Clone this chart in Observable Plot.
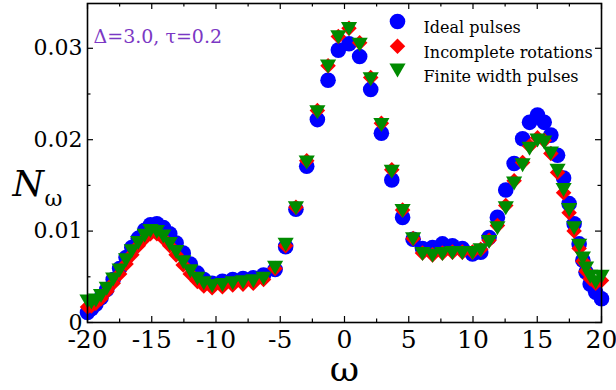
<!DOCTYPE html>
<html><head><meta charset="utf-8">
<script src="https://cdn.jsdelivr.net/npm/d3@7"></script>
<script src="https://cdn.jsdelivr.net/npm/@observablehq/plot@0.6"></script>
<style>body{margin:0;background:#fff}</style>
</head><body><div id="chart"></div>
<script>
// ---- data ----
const omega = [-20, -19.7, -19.35, -18.95, -18.5, -18.0, -17.5, -17.0, -16.55, -16.05, -15.55, -15.1, -14.6, -14.1, -13.6, -13.1, -12.55, -12.0, -11.45, -10.95, -10.3, -9.5, -8.7, -7.9, -7.1, -6.3, -5.4,
  -4.58, -3.78, -2.94, -2.11, -1.28, -0.48, 0.35, 1.18, 2.04, 2.87, 3.68, 4.52, 5.34,
  6.07, 6.85, 7.62, 8.4, 9.17, 9.96, 10.6, 11.25, 11.9, 12.55, 13.2, 13.86, 14.4, 15.02, 15.54, 16.06, 16.58, 17.05, 17.48, 17.87, 18.26, 18.55, 18.8, 19.12, 19.55, 20.0];
const ideal = [0.0011, 0.0015, 0.0020, 0.0027, 0.0036, 0.0047, 0.0059, 0.0071, 0.0082, 0.0092, 0.0101, 0.0107, 0.0108, 0.0104, 0.0097, 0.0087, 0.0076, 0.0064, 0.0054, 0.0047, 0.0043, 0.0045, 0.0047, 0.0048, 0.0049, 0.0052, 0.0058,
  0.0083, 0.0124, 0.0171, 0.0222, 0.0265, 0.0298, 0.0305, 0.0291, 0.0255, 0.0207, 0.0156, 0.0115, 0.0091,
  0.0081, 0.0082, 0.0086, 0.0084, 0.0081, 0.0075, 0.0077, 0.0093, 0.0115, 0.0145, 0.0174, 0.0201, 0.0219, 0.0227, 0.0219, 0.0205, 0.0183, 0.0158, 0.0130, 0.0108, 0.0086, 0.0068, 0.0055, 0.0042, 0.0033, 0.0026];
const incomplete = [0.0017, 0.0018, 0.0021, 0.0026, 0.0034, 0.0043, 0.0053, 0.0064, 0.0074, 0.0084, 0.0092, 0.0097, 0.0097, 0.0092, 0.0084, 0.0074, 0.0063, 0.0053, 0.0045, 0.0040, 0.0038, 0.0039, 0.0041, 0.0042, 0.0043, 0.0047, 0.0059,
  0.0084, 0.0126, 0.0177, 0.0232, 0.0281, 0.0313, 0.0322, 0.0306, 0.0268, 0.0218, 0.0167, 0.0123, 0.0092,
  0.0076, 0.0074, 0.0076, 0.0077, 0.0077, 0.0077, 0.0080, 0.0090, 0.0106, 0.0128, 0.0155, 0.0175, 0.0193, 0.0202, 0.0199, 0.0185, 0.0164, 0.0142, 0.0120, 0.0100, 0.0081, 0.0067, 0.0056, 0.0048, 0.0043, 0.0046];
const finite = [0.0023, 0.0022, 0.0024, 0.0029, 0.0037, 0.0047, 0.0057, 0.0068, 0.0078, 0.0087, 0.0095, 0.0100, 0.0099, 0.0094, 0.0086, 0.0077, 0.0066, 0.0056, 0.0048, 0.0043, 0.0040, 0.0041, 0.0043, 0.0044, 0.0045, 0.0048, 0.0060,
  0.0085, 0.0125, 0.0175, 0.0230, 0.0280, 0.0312, 0.0321, 0.0304, 0.0266, 0.0216, 0.0165, 0.0122, 0.0091,
  0.0075, 0.0073, 0.0075, 0.0076, 0.0076, 0.0076, 0.0079, 0.0088, 0.0103, 0.0125, 0.0152, 0.0172, 0.0190, 0.0199, 0.0197, 0.0185, 0.0166, 0.0145, 0.0123, 0.0103, 0.0084, 0.0070, 0.0059, 0.0050, 0.0044, 0.0050];

const seriesNames = ["Ideal pulses", "Incomplete rotations", "Finite width pulses"];
const seriesColors = ["#0000ff", "#ff0000", "#008b00"];
const xTicks = [-20, -15, -10, -5, 0, 5, 10, 15, 20];
const xMinor = [-17.5, -12.5, -7.5, -2.5, 2.5, 7.5, 12.5, 17.5];
const yTicks = [0, 0.01, 0.02, 0.03];
const yTickLabels = ["0", "0.01", "0.02", "0.03"];
const yMinor = [0.005, 0.015, 0.025];
const annotation = "Δ=3.0, τ=0.2";
const xLabel = "ω";
const yLabelMain = "N";
const yLabelSub = "ω";

// ---- layout ----
const W = 616, H = 390;
const mL = 87, mR = 15, mT = 3, mB = 68;
const fw = W - mL - mR, fh = H - mT - mB;
const serif = "DejaVu Serif";

const triangleDown = {
  draw(ctx, size) {
    const L = Math.sqrt(4 * size / Math.sqrt(3));
    const h = L * Math.sqrt(3) / 2;
    ctx.moveTo(-L / 2, -h / 2);
    ctx.lineTo(L / 2, -h / 2);
    ctx.lineTo(0, h / 2);
    ctx.closePath();
  }
};
const symbols = ["circle", "diamond2", triangleDown];
const radii = [7.8, 7.0, 6.0];

const legendMarks = [];
const legendDy = [18, 42.7, 67];
seriesNames.forEach((name, i) => {
  legendMarks.push(Plot.dot([name], {frameAnchor: "top-left", dx: 310, dy: legendDy[i], r: radii[i], symbol: symbols[i], fill: seriesColors[i]}));
  legendMarks.push(Plot.text([name], {text: d => d, frameAnchor: "top-left", textAnchor: "start", dx: 336, dy: legendDy[i] + 0.5, fontSize: 16, fontFamily: serif, fill: "black"}));
});

const chart = Plot.plot({
  width: W, height: H,
  marginLeft: mL, marginRight: mR, marginTop: mT, marginBottom: mB,
  style: {background: "white", fontFamily: serif},
  x: {domain: [-20, 20], axis: null},
  y: {domain: [0, 0.0349], axis: null},
  marks: [
    // inward ticks on all four sides
    Plot.tickX(xTicks, {x: d => d, insetTop: fh - 6, stroke: "black", strokeWidth: 1.2}),
    Plot.tickX(xTicks, {x: d => d, insetBottom: fh - 6, stroke: "black", strokeWidth: 1.2}),
    Plot.tickX(xMinor, {x: d => d, insetTop: fh - 3.5, stroke: "black", strokeWidth: 1.2}),
    Plot.tickX(xMinor, {x: d => d, insetBottom: fh - 3.5, stroke: "black", strokeWidth: 1.2}),
    Plot.tickY(yTicks, {y: d => d, insetRight: fw - 6, stroke: "black", strokeWidth: 1.2}),
    Plot.tickY(yTicks, {y: d => d, insetLeft: fw - 6, stroke: "black", strokeWidth: 1.2}),
    Plot.tickY(yMinor, {y: d => d, insetRight: fw - 3.5, stroke: "black", strokeWidth: 1.2}),
    Plot.tickY(yMinor, {y: d => d, insetLeft: fw - 3.5, stroke: "black", strokeWidth: 1.2}),
    // data
    Plot.dot(omega, {x: omega, y: ideal, r: radii[0], symbol: symbols[0], fill: seriesColors[0]}),
    Plot.dot(omega, {x: omega, y: incomplete, r: radii[1], symbol: symbols[1], fill: seriesColors[1]}),
    Plot.dot(omega, {x: omega, y: finite, r: radii[2], symbol: symbols[2], fill: seriesColors[2]}),
    Plot.frame({stroke: "black", strokeWidth: 1.6}),
    // tick labels
    Plot.text(xTicks, {x: d => d, text: d => String(d), frameAnchor: "bottom", lineAnchor: "top", dy: 8, fontSize: 25, fontFamily: serif, fill: "black"}),
    Plot.text(yTicks, {y: d => d, text: (d, i) => yTickLabels[i], frameAnchor: "left", textAnchor: "end", dx: -5, fontSize: 22, fontFamily: serif, fill: "black"}),
    // axis titles
    Plot.text([xLabel], {text: d => d, frameAnchor: "bottom", dy: 58, fontSize: 36, fontFamily: serif, fill: "black"}),
    Plot.text([yLabelMain], {text: d => d, frameAnchor: "left", textAnchor: "start", dx: -75, dy: 21, fontSize: 36, fontStyle: "italic", fontFamily: serif, fill: "black"}),
    Plot.text([yLabelSub], {text: d => d, frameAnchor: "left", textAnchor: "start", dx: -43, dy: 36, fontSize: 22, fontFamily: serif, fill: "black"}),
    // annotation
    Plot.text([annotation], {text: d => d, frameAnchor: "top-left", textAnchor: "start", dx: 6, dy: 26, fontSize: 19, fontFamily: serif, fill: "#7b38c4"}),
    ...legendMarks
  ]
});
document.getElementById("chart").appendChild(chart);
</script>
</body></html>
